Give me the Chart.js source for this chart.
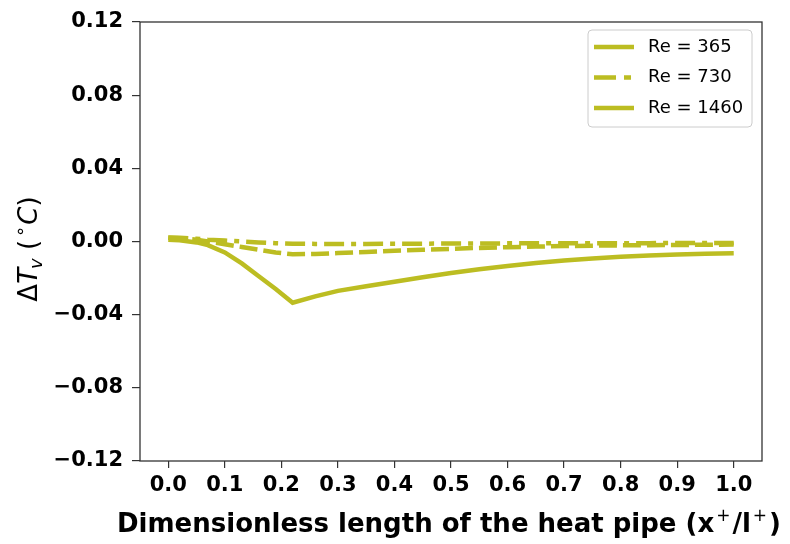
<!DOCTYPE html>
<html>
<head>
<meta charset="utf-8">
<script src="https://cdn.jsdelivr.net/npm/chart.js@4.4.0/dist/chart.umd.min.js"></script>
<style>
  html, body { margin: 0; padding: 0; background: #fff; }
</style>
</head>
<body>
<canvas id="dtv" width="790" height="544"></canvas>
<script>
// position along the pipe, x+/l+
const xPos = [0, 0.02, 0.05, 0.07, 0.1, 0.13, 0.16, 0.19, 0.22, 0.26, 0.3, 0.35, 0.4,
  0.45, 0.5, 0.55, 0.6, 0.65, 0.7, 0.75, 0.8, 0.85, 0.9, 0.95, 1.0];

// vapour temperature deviation (°C)
const re365 = [0.002, 0.0018, 0.001, 0, -0.0015, -0.003, -0.0045, -0.006, -0.007, -0.0068,
  -0.0063, -0.0057, -0.0051, -0.0045, -0.004, -0.0035, -0.0031, -0.0028, -0.0025, -0.0023,
  -0.0021, -0.002, -0.0019, -0.0018, -0.0017];
const re730 = [0.0022, 0.002, 0.0015, 0.001, 0.0005, 0, -0.0005, -0.0009, -0.0012, -0.0013,
  -0.0013, -0.0013, -0.0012, -0.0012, -0.0011, -0.0011, -0.001, -0.001, -0.001, -0.0009,
  -0.0009, -0.0009, -0.0008, -0.0008, -0.0008];
const re1460 = [0.001, 0.0007, -0.0005, -0.002, -0.006, -0.012, -0.019, -0.026, -0.0335, -0.030,
  -0.027, -0.0245, -0.022, -0.0195, -0.0172, -0.0152, -0.0134, -0.0118, -0.0104, -0.0093,
  -0.0084, -0.0077, -0.0071, -0.0067, -0.0064];

const seriesNames = ["Re = 365", "Re = 730", "Re = 1460"];
const yTicks = [-0.12, -0.08, -0.04, 0, 0.04, 0.08, 0.12];
const xTicks = [0, 0.1, 0.2, 0.3, 0.4, 0.5, 0.6, 0.7, 0.8, 0.9, 1.0];

const olive = "#bcbd22";
const dashes = [[18, 6], [20, 7, 5, 7], []];
const legendDashes = [[], [22, 8, 7, 8], []];

const toPoints = (ys) => ys.map((y, i) => ({ x: xPos[i], y: y }));

// draws a run of text pieces (font, vertical shift) starting at x
function drawPieces(ctx, parts, x) {
  parts.forEach(p => {
    ctx.font = p.f;
    ctx.fillText(p.t, x + (p.pre || 0), p.dy);
    x += (p.pre || 0) + ctx.measureText(p.t).width + (p.post || 0);
  });
}
function piecesWidth(ctx, parts) {
  let w = 0;
  parts.forEach(p => { ctx.font = p.f; w += (p.pre || 0) + ctx.measureText(p.t).width + (p.post || 0); });
  return w;
}

// box around the plot area, like matplotlib spines
const frame = {
  id: "frame",
  afterDraw(chart) {
    const { ctx, chartArea: a } = chart;
    ctx.save();
    ctx.strokeStyle = "#333";
    ctx.lineWidth = 1.3;
    ctx.strokeRect(a.left, a.top, a.right - a.left, a.bottom - a.top);
    ctx.restore();
  }
};

// axis titles with sub/superscripts
const axisTitles = {
  id: "axisTitles",
  afterDraw(chart) {
    const { ctx, chartArea: a } = chart;
    ctx.save();
    ctx.fillStyle = "#000";
    ctx.textBaseline = "alphabetic";

    const yParts = [
      { t: "\u0394", f: "26px 'DejaVu Sans'", dy: 0 },
      { t: "T", f: "italic 26px 'DejaVu Sans'", dy: 0 },
      { t: "v", f: "italic 18px 'DejaVu Sans'", dy: 5, pre: -1 },
      { t: " (", f: "26px 'DejaVu Sans'", dy: 0 },
      { t: "\u2218", f: "18px 'DejaVu Sans'", dy: -11, pre: 3 },
      { t: "C", f: "italic 26px 'DejaVu Sans'", dy: 0, pre: 1 },
      { t: ")", f: "26px 'DejaVu Sans'", dy: 0 }
    ];
    ctx.save();
    ctx.translate(37, 249);
    ctx.rotate(-Math.PI / 2);
    drawPieces(ctx, yParts, -piecesWidth(ctx, yParts) / 2);
    ctx.restore();

    const bold = "bold 26px 'DejaVu Sans'";
    const sup = "17px 'DejaVu Sans'";
    const xParts = [
      { t: "Dimensionless length of the heat pipe (x", f: bold, dy: 0 },
      { t: "+", f: sup, dy: -11, pre: 2, post: 2 },
      { t: "/l", f: bold, dy: 0 },
      { t: "+", f: sup, dy: -11, pre: 2, post: 2 },
      { t: ")", f: bold, dy: 0 }
    ];
    ctx.save();
    ctx.translate(449, 532);
    drawPieces(ctx, xParts, -piecesWidth(ctx, xParts) / 2);
    ctx.restore();
    ctx.restore();
  }
};

// legend box in the upper right corner
const boxLegend = {
  id: "boxLegend",
  afterDraw(chart) {
    const { ctx, chartArea: a } = chart;
    const w = 164, h = 97, left = a.right - 10 - w, top = a.top + 8;
    ctx.save();
    ctx.beginPath();
    ctx.roundRect(left, top, w, h, 4);
    ctx.fillStyle = "rgba(255,255,255,0.8)";
    ctx.fill();
    ctx.strokeStyle = "#ccc";
    ctx.lineWidth = 1;
    ctx.stroke();
    chart.data.datasets.forEach((ds, i) => {
      const y = top + 17 + i * 30.5;
      ctx.beginPath();
      ctx.setLineDash(legendDashes[i]);
      ctx.strokeStyle = ds.borderColor;
      ctx.lineWidth = ds.borderWidth;
      ctx.moveTo(left + 6, y);
      ctx.lineTo(left + 46, y);
      ctx.stroke();
      ctx.setLineDash([]);
      ctx.fillStyle = "#000";
      ctx.font = "18px 'DejaVu Sans'";
      ctx.textBaseline = "middle";
      ctx.fillText(ds.label, left + 60, y);
    });
    ctx.restore();
  }
};

const tickFont = { family: "'DejaVu Sans'", size: 21, weight: "bold" };

new Chart("dtv", {
  type: "line",
  data: {
    datasets: [re365, re730, re1460].map((ys, i) => ({
      label: seriesNames[i],
      data: toPoints(ys),
      borderColor: olive,
      borderWidth: 4.5,
      borderDash: dashes[i],
      pointRadius: 0,
      tension: 0,
      fill: false
    }))
  },
  options: {
    responsive: false,
    animation: false,
    layout: { padding: { top: 22, right: 28, left: 0, bottom: 0 } },
    plugins: {
      legend: { display: false },
      tooltip: { enabled: false }
    },
    scales: {
      x: {
        type: "linear",
        min: -0.05,
        max: 1.05,
        afterBuildTicks: s => { s.ticks = xTicks.map(v => ({ value: v })); },
        afterFit: s => { s.height = 83; },
        border: { display: false },
        grid: { drawOnChartArea: false, drawTicks: true, tickLength: 7, color: "#333", lineWidth: 1.2 },
        ticks: {
          font: tickFont,
          color: "#000",
          padding: 5,
          maxRotation: 0,
          callback: v => v.toFixed(1)
        }
      },
      y: {
        min: -0.12,
        max: 0.12,
        afterBuildTicks: s => { s.ticks = yTicks.map(v => ({ value: v })); },
        afterFit: s => { s.width = 140; },
        border: { display: false },
        grid: { drawOnChartArea: false, drawTicks: true, tickLength: 8, color: "#333", lineWidth: 1.2 },
        ticks: {
          font: tickFont,
          color: "#000",
          padding: 9,
          callback: v => (v < 0 ? "\u2212" : "") + Math.abs(v).toFixed(2)
        }
      }
    }
  },
  plugins: [frame, axisTitles, boxLegend]
});
</script>
</body>
</html>
